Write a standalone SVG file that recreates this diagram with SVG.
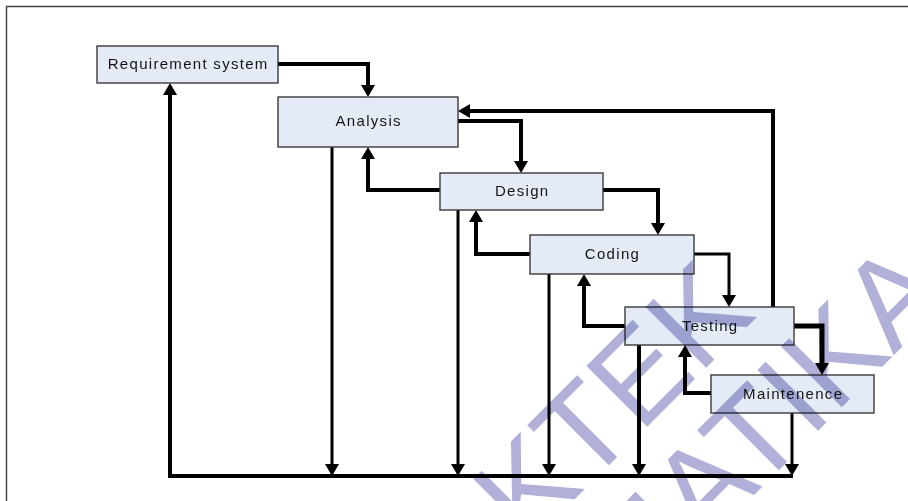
<svg xmlns="http://www.w3.org/2000/svg" width="908" height="501" viewBox="0 0 908 501">
  <style>
    .box rect { fill: #e4eaf6; stroke: #3a3a3a; stroke-width: 1.4; }
    .box text { font-family: "Liberation Sans", Arial, sans-serif; font-size: 15px; letter-spacing: 1.3px; fill: #151515; text-anchor: middle; }
    .c { fill: none; stroke: #000; stroke-linejoin: miter; }
    .thick { stroke-width: 4; }
    .thin { stroke-width: 3; }
    .arr { marker-end: url(#ah); }
    .wm { font-family: "Liberation Sans", Arial, sans-serif; font-size: 125px; fill: #b0b0d8; mix-blend-mode: multiply; }
  </style>
  <defs>
    <marker id="ah" viewBox="0 0 12 14" refX="7" refY="7" markerWidth="12" markerHeight="14" markerUnits="userSpaceOnUse" orient="auto">
      <path d="M0,0 L12,7 L0,14 z" fill="#000"/>
    </marker>
  </defs>
  <rect x="6.5" y="6.5" width="930" height="540" fill="#fff" stroke="#444" stroke-width="1.5"/>

  <g id="connectors">
    <path class="c thick arr" d="M278,64 H368 V92"/>
    <path class="c thick arr" d="M793,476 H170 V88"/>
    <path class="c thick arr" d="M458,121 H521 V168"/>
    <path class="c thick arr" d="M440,190 H368 V152"/>
    <path class="c thick arr" d="M603,190 H658 V230"/>
    <path class="c thick arr" d="M530,254 H476 V215"/>
    <path class="c thin arr" d="M694,254 H729 V302"/>
    <path class="c thick arr" d="M625,326 H584 V279"/>
    <path class="c thick arr" d="M794,326 H822 V370" style="stroke-width:5"/>
    <path class="c thick arr" d="M711,393 H685 V350"/>
    <path class="c thick arr" d="M773,307 V111 H463"/>
    <path class="c thin arr" d="M332,147 V471"/>
    <path class="c thin arr" d="M458,210 V471"/>
    <path class="c thin arr" d="M549,274 V471"/>
    <path class="c thick arr" d="M639,345 V471"/>
    <path class="c thin arr" d="M792,413 V471"/>
  </g>

  <g id="requirement" class="box">
    <rect x="97" y="46" width="181" height="37"/>
    <text x="188.2" y="68.5">Requirement system</text>
  </g>
  <g id="analysis" class="box">
    <rect x="278" y="97" width="180" height="50"/>
    <text x="368.7" y="126">Analysis</text>
  </g>
  <g id="design" class="box">
    <rect x="440" y="173" width="163" height="37"/>
    <text x="522.2" y="196">Design</text>
  </g>
  <g id="coding" class="box">
    <rect x="530" y="235" width="164" height="39"/>
    <text x="612.5" y="259">Coding</text>
  </g>
  <g id="testing" class="box">
    <rect x="625" y="307" width="169" height="38"/>
    <text x="710.2" y="330.5">Testing</text>
  </g>
  <g id="maintenence" class="box">
    <rect x="711" y="375" width="163" height="38"/>
    <text x="793.2" y="399">Maintenence</text>
  </g>

  <g id="watermark">
    <text class="wm" transform="translate(527,547) rotate(-45)">KTEK</text>
    <text class="wm" transform="translate(630,619) rotate(-45)">MATIKA</text>
  </g>
</svg>
